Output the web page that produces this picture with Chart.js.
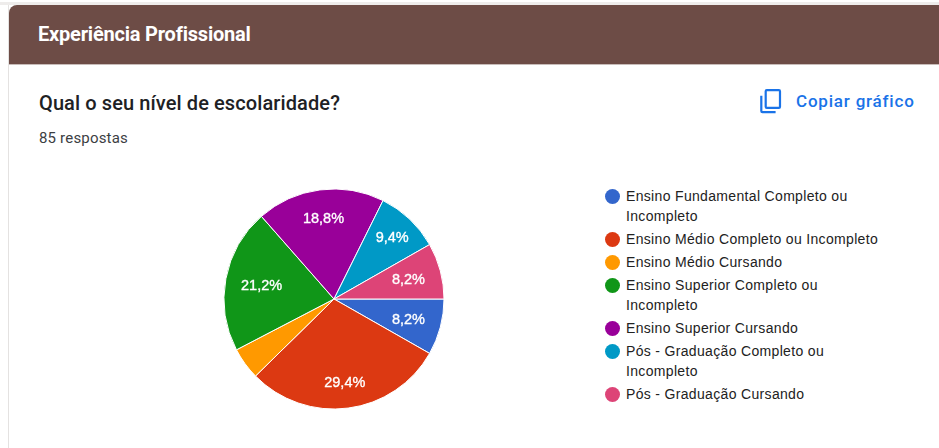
<!DOCTYPE html>
<html lang="pt">
<head>
<meta charset="utf-8">
<title>Experiência Profissional</title>
<script src="https://cdn.jsdelivr.net/npm/chart.js@4/dist/chart.umd.min.js"></script>
<style>
  html, body { margin: 0; padding: 0; background: #fff; overflow: hidden; }
  body { width: 939px; height: 448px; position: relative; font-family: Roboto, sans-serif; }
  .top-strip { position: absolute; left: 0; top: 2px; width: 939px; height: 3px; background: #eeeceb; }
  .card { position: absolute; left: 8px; top: 5px; width: 960px; height: 460px; background: #fff; border-left: 1px solid #e4e2e1; }
  .band { position: absolute; left: 9px; top: 5px; width: 940px; height: 59px; background: #6d4c46; border-top-left-radius: 8px; border-bottom: 1px solid #c8bcb9; }
  .band span { position: absolute; left: 29px; top: 17px; color: #fff; font-size: 20px; font-weight: 700; letter-spacing: -0.2px; }
  .question { position: absolute; left: 39px; top: 91px; font-size: 20px; font-weight: 500; color: #202124; letter-spacing: 0.1px; }
  .count { position: absolute; left: 39px; top: 129px; font-size: 15px; color: #3c4043; letter-spacing: 0.18px; }
  .copy { position: absolute; left: 758px; top: 88px; height: 28px; color: #1a73e8; font-size: 17px; font-weight: 500; letter-spacing: 0.8px; }
  .copy svg { position: absolute; left: 0; top: 0; width: 26.4px; height: 26.4px; fill: #1a73e8; }
  .copy span { position: absolute; left: 38px; top: 3px; white-space: nowrap; }
  .chart-box { position: absolute; left: 204px; top: 169px; width: 260px; height: 260px; }
  #legend { position: absolute; left: 605px; top: 186px; width: 279px; margin: 0; padding: 0; list-style: none; font: 14px/20px "Liberation Sans", Arial, sans-serif; color: #222; letter-spacing: 0.33px; }
  #legend li { position: relative; padding-left: 21px; margin-bottom: 3px; }
  #legend i { position: absolute; left: 0; top: 3px; width: 15px; height: 15px; border-radius: 50%; }
</style>
</head>
<body>
<div class="top-strip"></div>
<div class="card"></div>
<div class="band"><span>Experiência Profissional</span></div>
<div class="question">Qual o seu nível de escolaridade?</div>
<div class="count">85 respostas</div>
<div class="copy">
  <svg viewBox="0 0 24 24"><path d="M16 1H4a2 2 0 0 0-2 2v14h2V3h12V1zm3 4H8a2 2 0 0 0-2 2v14a2 2 0 0 0 2 2h11a2 2 0 0 0 2-2V7a2 2 0 0 0-2-2zm0 16H8V7h11v14z" transform="matrix(1 0 0 -1 0 24)"/></svg>
  <span>Copiar gráfico</span>
</div>
<div class="chart-box"><canvas id="pie"></canvas></div>
<ul id="legend"></ul>

<script>
const categories = [
  'Ensino Fundamental Completo ou Incompleto',
  'Ensino Médio Completo ou Incompleto',
  'Ensino Médio Cursando',
  'Ensino Superior Completo ou Incompleto',
  'Ensino Superior Cursando',
  'Pós - Graduação Completo ou Incompleto',
  'Pós - Graduação Cursando'
];
const responses = [7, 25, 4, 18, 16, 8, 7];
const sliceColors = ['#3366cc', '#dc3912', '#ff9900', '#109618', '#990099', '#0099c6', '#dd4477'];

const total = responses.reduce((a, b) => a + b, 0);

// how far out each percent text sits, as a share of the radius
const labelReach = [0.70, 0.76, 0.70, 0.67, 0.74, 0.77, 0.70];

// percent text inside each slice, narrow slices stay unlabelled
const sliceLabels = {
  id: 'sliceLabels',
  afterDatasetsDraw(chart) {
    const ctx = chart.ctx;
    const arcs = chart.getDatasetMeta(0).data;
    ctx.save();
    ctx.font = "14.5px 'Liberation Sans'";
    ctx.fillStyle = '#fff';
    ctx.strokeStyle = '#fff';
    ctx.lineWidth = 0.35;
    ctx.textAlign = 'center';
    ctx.textBaseline = 'middle';
    arcs.forEach((arc, i) => {
      const share = responses[i] / total * 100;
      if (share < 5) return;
      const mid = (arc.startAngle + arc.endAngle) / 2;
      const dist = arc.outerRadius * labelReach[i];
      const text = share.toFixed(1).replace('.', ',') + '%';
      const x = arc.x + Math.cos(mid) * dist;
      const y = arc.y + Math.sin(mid) * dist + 1;
      ctx.fillText(text, x, y);
      ctx.strokeText(text, x, y);
    });
    ctx.restore();
  }
};

new Chart(document.getElementById('pie'), {
  type: 'pie',
  data: {
    labels: categories,
    datasets: [{
      data: responses,
      backgroundColor: sliceColors,
      borderColor: '#fff',
      borderWidth: 1,
      radius: 110,
      rotation: 90
    }]
  },
  options: {
    responsive: true,
    maintainAspectRatio: false,
    animation: false,
    plugins: { legend: { display: false }, tooltip: { enabled: false } }
  },
  plugins: [sliceLabels]
});

// legend sits in the page so its long entries can wrap
const legend = document.getElementById('legend');
categories.forEach((name, i) => {
  const li = document.createElement('li');
  const dot = document.createElement('i');
  dot.style.background = sliceColors[i];
  li.appendChild(dot);
  li.appendChild(document.createTextNode(name));
  legend.appendChild(li);
});
</script>
</body>
</html>
